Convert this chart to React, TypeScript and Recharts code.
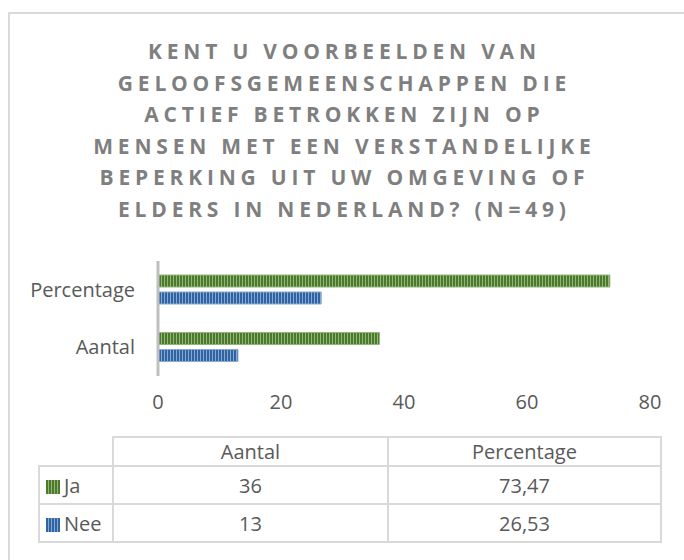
import React from "react";
import { Bar, BarChart, XAxis, YAxis } from "recharts";

const titleLines = [
  "KENT U VOORBEELDEN VAN",
  "GELOOFSGEMEENSCHAPPEN DIE",
  "ACTIEF BETROKKEN ZIJN OP",
  "MENSEN MET EEN VERSTANDELIJKE",
  "BEPERKING UIT UW OMGEVING OF",
  "ELDERS IN NEDERLAND? (N=49)",
];
const categories = ["Aantal", "Percentage"];
const jaValues = [36, 73.47];
const neeValues = [13, 26.53];
const xTicks = [0, 20, 40, 60, 80];

const FONT = "'Open Sans', sans-serif";
const TEXT = "#595959";
const LINE = "#d9d9d9";

const series = [
  { key: "Ja", values: jaValues, dark: "#4a7a2a", light: "#93b47a", id: "patJa" },
  { key: "Nee", values: neeValues, dark: "#2f64a0", light: "#86a8d2", id: "patNee" },
];

// Excel draws the first category at the bottom
const chartData = categories
  .map((name, i) => ({ name, Ja: jaValues[i], Nee: neeValues[i] }))
  .reverse();

const fmt = (v: number) => String(v).replace(".", ",");

function Swatch({ dark, light }: { dark: string; light: string }) {
  return (
    <span
      style={{
        display: "inline-block",
        width: 14,
        height: 14,
        marginRight: 4,
        verticalAlign: "-1px",
        background: `repeating-linear-gradient(90deg, ${dark} 0 2px, ${light} 2px 3px)`,
      }}
    />
  );
}

export default function App() {
  const cell = { border: `2px solid ${LINE}`, padding: 0, textAlign: "center" as const };
  return (
    <div
      style={{
        position: "absolute",
        left: 0,
        top: 0,
        width: 684,
        height: 560,
        overflow: "hidden",
        background: "#fff",
        fontFamily: FONT,
      }}
    >
      <div
        style={{
          position: "absolute",
          left: 8,
          top: 12,
          width: 720,
          height: 600,
          border: `2px solid ${LINE}`,
        }}
      />
      <div
        style={{
          position: "absolute",
          left: 0,
          top: 36,
          width: 684,
          textAlign: "center",
          color: "#7f7f7f",
          fontWeight: 700,
          fontSize: 21,
          lineHeight: "31.6px",
          letterSpacing: 4.8,
        }}
      >
        {titleLines.map((l) => (
          <div key={l} style={{ paddingLeft: 4.8 }}>
            {l}
          </div>
        ))}
      </div>
      <div style={{ position: "absolute", left: 0, top: 0 }}>
        <BarChart
          width={684}
          height={430}
          layout="vertical"
          data={chartData}
          margin={{ top: 261, right: 34, bottom: 24, left: 8 }}
          barSize={12}
          barGap={5}
        >
          <defs>
            {series.map((s) => (
              <pattern
                key={s.id}
                id={s.id}
                patternUnits="userSpaceOnUse"
                width={3}
                height={4}
              >
                <rect width={3} height={4} fill={s.light} />
                <rect width={2} height={4} fill={s.dark} />
              </pattern>
            ))}
          </defs>
          <XAxis
            type="number"
            domain={[0, 80]}
            ticks={xTicks}
            axisLine={false}
            tickLine={false}
            tickMargin={13}
            height={30}
            tick={{ fill: TEXT, fontSize: 20, fontFamily: FONT }}
          />
          <YAxis
            type="category"
            dataKey="name"
            width={150}
            axisLine={{ stroke: "#bfbfbf", strokeWidth: 3 }}
            tickLine={false}
            tickMargin={17}
            tick={{ fill: TEXT, fontSize: 20, fontFamily: FONT }}
          />
          {series.map((s) => (
            <Bar
              key={s.key}
              dataKey={s.key}
              fill={`url(#${s.id})`}
              stroke={s.light}
              strokeWidth={1}
              isAnimationActive={false}
            />
          ))}
        </BarChart>
      </div>
      <table
        style={{
          position: "absolute",
          left: 38,
          top: 436,
          borderCollapse: "collapse",
          color: TEXT,
          fontSize: 20,
          tableLayout: "fixed",
        }}
      >
        <colgroup>
          <col style={{ width: 74 }} />
          <col style={{ width: 275 }} />
          <col style={{ width: 273 }} />
        </colgroup>
        <tbody>
          <tr style={{ height: 29 }}>
            <td style={{ ...cell, borderTop: "none", borderLeft: "none" }} />
            {categories.map((c) => (
              <td key={c} style={cell}>
                {c}
              </td>
            ))}
          </tr>
          {series.map((s) => (
            <tr key={s.key} style={{ height: 38 }}>
              <td style={{ ...cell, textAlign: "left", paddingLeft: 6 }}>
                <Swatch dark={s.dark} light={s.light} />
                {s.key}
              </td>
              {s.values.map((v, i) => (
                <td key={i} style={cell}>
                  {fmt(v)}
                </td>
              ))}
            </tr>
          ))}
        </tbody>
      </table>
    </div>
  );
}
